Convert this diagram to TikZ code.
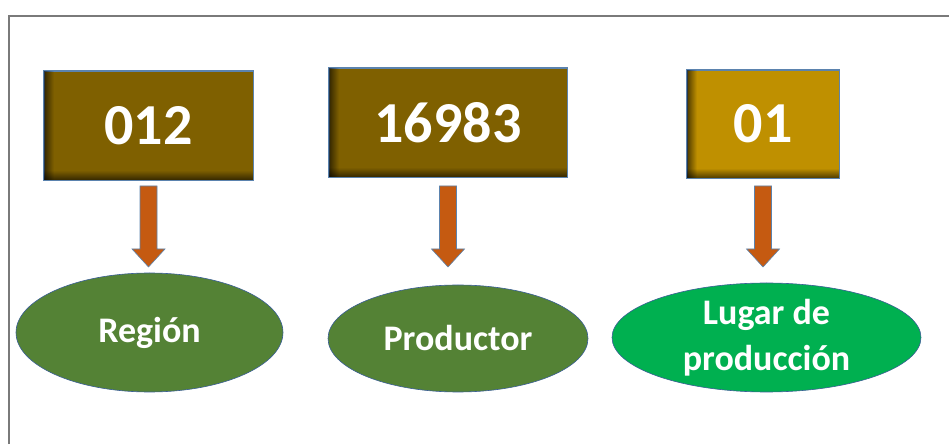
\documentclass[tikz,border=0pt]{standalone}
\usepackage{fontspec}
\setmainfont{Carlito}
\usetikzlibrary{shapes.geometric,calc,fadings}
\definecolor{boxdark}{HTML}{7F6000}
\definecolor{boxgold}{HTML}{BF9000}
\definecolor{arrowc}{HTML}{C55A11}
\definecolor{edgec}{HTML}{5B83AE}
\definecolor{ellgreen}{HTML}{548235}
\definecolor{ellbright}{HTML}{00B050}
\definecolor{elledge}{HTML}{3A5E96}
\definecolor{framec}{HTML}{7A7A7A}
\tikzfading[name=fadeR, left color=transparent!40, right color=transparent!100]
\tikzfading[name=fadeU, bottom color=transparent!40, top color=transparent!100]
\tikzset{
  codebox/.style={draw=edgec, line width=0.6pt, inner sep=0pt, text=white,
    font=\bfseries\fontsize{58}{60}\selectfont},
  fieldell/.style={ellipse, draw=elledge, line width=0.6pt, inner sep=0pt, text=white,
    align=center, font=\bfseries\fontsize{36}{46}\selectfont},
  fatarrow/.style={fill=arrowc, draw=edgec, line width=0.6pt}
}
\newcommand\innershadow[1]{%
  \fill[black, path fading=fadeR] (#1.south west) rectangle ($(#1.north west)+(10pt,0)$);
  \fill[black, path fading=fadeU] (#1.south west) rectangle ($(#1.south east)+(0,10pt)$);
  \draw[edgec, line width=0.6pt] (#1.south west) rectangle (#1.north east);}
% arrow from below box #1 towards ellipse #2: shaft top y=258, head base y=195, tip y=177
\newcommand\fatarrowdraw[2]{%
  \path[fatarrow] let \p1=(#1.south), \p2=(#2.north) in
  (\x1-8.5pt,258pt) -- (\x1+8.5pt,258pt) -- (\x1+8.5pt,195pt) --
  (\x1+16.5pt,195pt) -- (\x1,177pt) -- (\x1-16.5pt,195pt) --
  (\x1-8.5pt,195pt) -- cycle;}
\begin{document}
\begin{tikzpicture}[x=1pt,y=1pt]
\useasboundingbox (0,0) rectangle (949,444);
\draw[framec, line width=1.3pt] (9,0) -- (9,428) -- (949,428);
% code boxes
\node[codebox, fill=boxdark, minimum width=209pt, minimum height=109pt] (b1) at (148.5,318.5) {};
\node[codebox, fill=boxdark, minimum width=238pt, minimum height=109pt] (b2) at (448,321.5) {};
\node[codebox, fill=boxgold, minimum width=152pt, minimum height=108pt] (b3) at (763,320) {};
\innershadow{b1}
\innershadow{b2}
\innershadow{b3}
\node[codebox, draw=none] at (b1) {012};
\node[codebox, draw=none] at (b2) {16983};
\node[codebox, draw=none] at (b3) {01};
% ellipses
\node[fieldell, fill=ellgreen, minimum width=267pt, minimum height=119pt] (e1) at (149.5,111.5) {Región};
\node[fieldell, fill=ellgreen, minimum width=260pt, minimum height=107pt] (e2) at (458,105.5) {Productor};
\node[fieldell, fill=ellbright, minimum width=309pt, minimum height=109pt] (e3) at (766.5,106.5) {Lugar de\\producción};
% arrows
\fatarrowdraw{b1}{e1}
\fatarrowdraw{b2}{e2}
\fatarrowdraw{b3}{e3}
\end{tikzpicture}
\end{document}
